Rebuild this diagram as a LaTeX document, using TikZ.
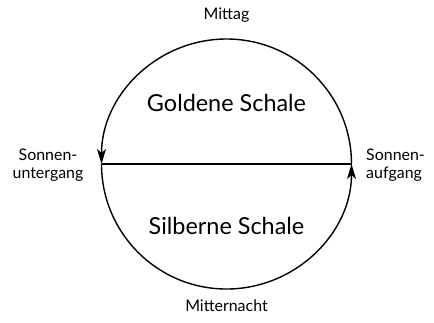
\documentclass[tikz,border=0pt]{standalone}
\usepackage{fontspec}
\setmainfont{Lato}
\usetikzlibrary{arrows.meta}
\begin{document}
\begin{tikzpicture}[x=1bp,y=-1bp,
  lbl/.style={font=\fontsize{16}{18}\selectfont, align=center, inner sep=0pt},
  big/.style={font=\fontsize{23.5}{26}\selectfont, inner sep=0pt},
  arc/.style={line width=1.4bp, -{Stealth[length=15bp,width=9bp,inset=4bp]}}]
\useasboundingbox (0,0) rectangle (434,322);
\coordinate (c) at (226.5,164);
\coordinate (E) at (351.5,164);
\coordinate (W) at (101.5,164);
\draw[line width=1.3bp] (W) -- (E);
\draw[arc] (E) arc[start angle=0, end angle=180, radius=125bp];
\draw[arc] (W) arc[start angle=180, end angle=360, radius=125bp];
\node[big] (g) at (226.5,103) {Goldene Schale};
\node[big] (s) at (226.5,226) {Silberne Schale};
\node[lbl] (m) at (226.5,15) {Mittag};
\node[lbl] (n) at (226.5,306) {Mitternacht};
\node[lbl] (u) at (48,165) {Sonnen-\\untergang};
\node[lbl, align=left, anchor=west] (a) at (366,165) {Sonnen-\\aufgang};
\end{tikzpicture}
\end{document}
